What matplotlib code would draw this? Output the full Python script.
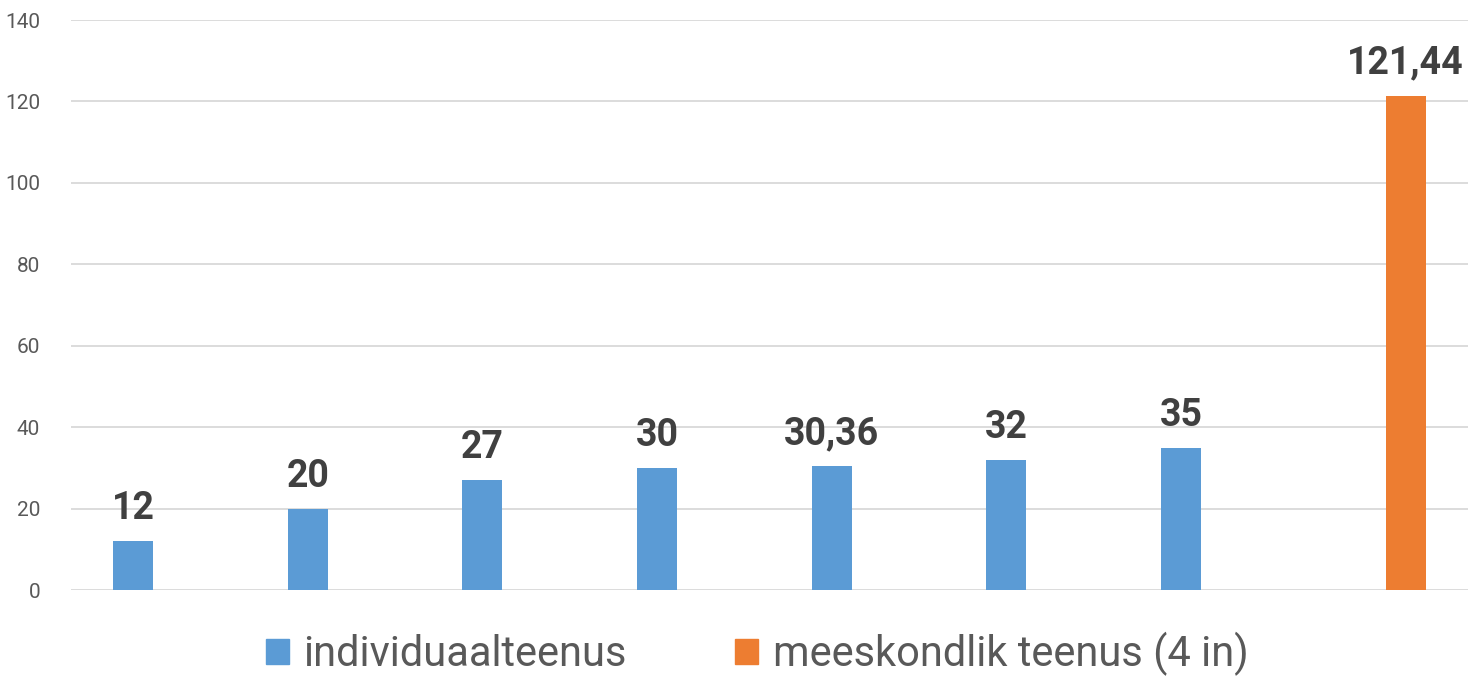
import matplotlib.pyplot as plt
import numpy as np
from matplotlib.patches import Patch

# data
individual = [12, 20, 27, 30, 30.36, 32, 35]
team = [121.44]
labels_ind = ["12", "20", "27", "30", "30,36", "32", "35"]
labels_team = ["121,44"]
series_names = ["individuaalteenus", "meeskondlik teenus (4 in)"]

plt.rcParams['font.family'] = ['Roboto', 'DejaVu Sans']

blue = "#5b9bd5"
orange = "#ed7d31"

fig = plt.figure(figsize=(14.73, 6.81), dpi=100)
ax = fig.add_axes([0.048, 0.1336, 0.9486, 0.837])

off = 0.143
w = 0.229
x_ind = np.arange(len(individual)) - off
x_team = np.arange(len(individual), len(individual) + len(team)) + off

b1 = ax.bar(x_ind, individual, width=w, color=blue, zorder=3)
b2 = ax.bar(x_team, team, width=w, color=orange, zorder=3)

for bars, labs in ((b1, labels_ind), (b2, labels_team)):
    for rect, lab in zip(bars, labs):
        ax.annotate(lab, (rect.get_x() + rect.get_width() / 2, rect.get_height()),
                    xytext=(0, 10), textcoords="offset points", ha="center", va="bottom",
                    fontsize=27, fontweight="bold", color="#404040", fontstretch="condensed")

ax.set_xlim(-0.5, 7.5)
ax.set_ylim(0, 140)
ax.set_yticks(range(0, 141, 20))
ax.set_xticks([])
ax.yaxis.grid(True, color="#d9d9d9", linewidth=1.3, zorder=0)
for s in ax.spines.values():
    s.set_visible(False)
ax.tick_params(axis="y", length=0, pad=22, labelsize=15, labelcolor="#595959")

handles = [Patch(color=blue), Patch(color=orange)]
fig.legend(handles, series_names, loc="center", bbox_to_anchor=(0.514, 0.04), ncol=2,
           frameon=False, fontsize=30, labelcolor="#595959", handlelength=0.55,
           handleheight=0.55, handletextpad=0.35, columnspacing=2.6)

fig.savefig("out.png", dpi=100)
